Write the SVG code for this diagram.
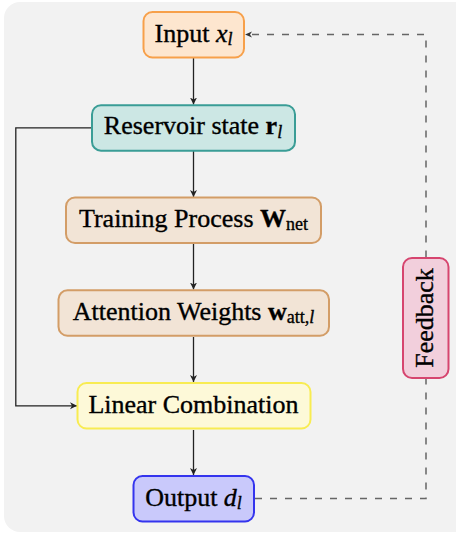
<svg xmlns="http://www.w3.org/2000/svg" width="456" height="533" viewBox="0 0 456 533">
<style>
text{font-family:'Liberation Serif','Times New Roman',serif;font-size:26px;fill:#000;stroke:#000;stroke-width:0.35}
.sub{font-size:18px}
.box{stroke-width:2}
.solid{fill:none;stroke:#222;stroke-width:1.3}
.dash{fill:none;stroke:#666;stroke-width:1.5;stroke-dasharray:7,8}
</style>
<defs>
<marker id="ah" markerWidth="8" markerHeight="8" refX="7" refY="4" orient="auto" markerUnits="userSpaceOnUse">
<path d="M0,0.5 L7,4 L0,7.5 L2,4 Z" fill="#222"/>
</marker>
<marker id="ahd" markerWidth="8" markerHeight="8" refX="7" refY="4" orient="auto" markerUnits="userSpaceOnUse">
<path d="M0,1 L7,4 L0,7 L2,4 Z" fill="#333"/>
</marker>
</defs>
<rect x="4" y="2" width="470" height="530" rx="16" fill="#f2f2f2"/>
<g id="connectors">
<line class="solid" x1="193.5" y1="58" x2="193.5" y2="104.5" marker-end="url(#ah)"/>
<line class="solid" x1="193.5" y1="151" x2="193.5" y2="197" marker-end="url(#ah)"/>
<line class="solid" x1="193.5" y1="244" x2="193.5" y2="289.5" marker-end="url(#ah)"/>
<line class="solid" x1="193.5" y1="337" x2="193.5" y2="382" marker-end="url(#ah)"/>
<line class="solid" x1="193.5" y1="430" x2="193.5" y2="475" marker-end="url(#ah)"/>
<polyline class="solid" points="91.5,127.8 15.8,127.8 15.8,405.8 77,405.8" marker-end="url(#ah)"/>
<polyline class="dash" points="255,498.5 426,498.5 426,378.5"/>
<polyline class="dash" points="426,257.5 426,34.5 245,34.5" marker-end="url(#ahd)"/>
</g>
<g id="input">
<rect class="box" x="143.5" y="12" width="100.5" height="45.5" rx="9" fill="#fde6cf" stroke="#f7a04a"/>
<text x="193.5" y="41.7" text-anchor="middle">Input <tspan font-style="italic">x</tspan><tspan class="sub" font-style="italic" dy="3.5">l</tspan></text>
</g>
<g id="reservoir">
<rect class="box" x="92" y="105.2" width="203" height="45.5" rx="9" fill="#cce7e4" stroke="#3a9d96"/>
<text x="193" y="134.3" text-anchor="middle">Reservoir state <tspan font-weight="bold">r</tspan><tspan class="sub" font-style="italic" dy="3.5">l</tspan></text>
</g>
<g id="training">
<rect class="box" x="66" y="197.5" width="255" height="45.5" rx="9" fill="#f2e4d6" stroke="#d39d67"/>
<text x="193.5" y="226.8" text-anchor="middle">Training Process <tspan font-weight="bold">W</tspan><tspan class="sub" dy="3.5">net</tspan></text>
</g>
<g id="attention">
<rect class="box" x="58.5" y="290.3" width="270.5" height="45.5" rx="9" fill="#f2e4d6" stroke="#d39d67"/>
<text x="193.5" y="319.5" text-anchor="middle">Attention Weights <tspan font-weight="bold">w</tspan><tspan class="sub" dy="3.5">att,<tspan font-style="italic">l</tspan></tspan></text>
</g>
<g id="linear">
<rect class="box" x="77.5" y="383" width="233" height="45.5" rx="9" fill="#fdf9d8" stroke="#f8ec52"/>
<text x="193.5" y="412.5" text-anchor="middle">Linear Combination</text>
</g>
<g id="output">
<rect class="box" x="133.5" y="476" width="120.5" height="45.5" rx="9" fill="#c9c9fb" stroke="#3434ee"/>
<text x="193.5" y="505.5" text-anchor="middle">Output <tspan font-style="italic">d</tspan><tspan class="sub" font-style="italic" dy="3.5">l</tspan></text>
</g>
<g id="feedback">
<rect class="box" x="403" y="258" width="45.5" height="120" rx="9" fill="#f2cfdc" stroke="#d6456f"/>
<text transform="translate(433.3,318) rotate(-90)" text-anchor="middle">Feedback</text>
</g>
</svg>
